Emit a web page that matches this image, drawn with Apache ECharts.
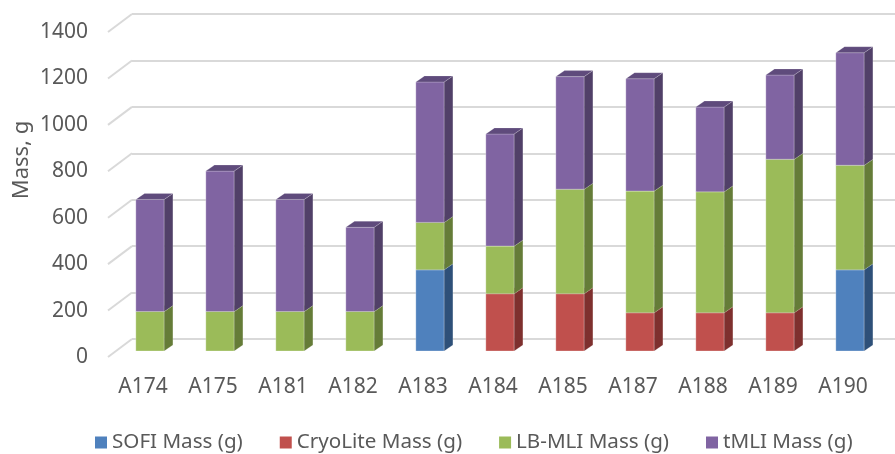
<!DOCTYPE html>
<html>
<head>
<meta charset="utf-8">
<script src="https://cdn.jsdelivr.net/npm/echarts@6/dist/echarts.min.js"></script>
<style>
html,body{margin:0;padding:0;background:#fff;}
#chart{width:895px;height:454px;}
</style>
</head>
<body>
<div id="chart"></div>
<script>
const categories = ['A174','A175','A181','A182','A183','A184','A185','A187','A188','A189','A190'];
const sofiMass     = [0,0,0,0,350,0,0,0,0,0,350];
const cryoLiteMass = [0,0,0,0,0,247,247,165,165,165,0];
const lbMliMass    = [170,170,170,170,204,205,450,524,521,661,450];
const tMliMass     = [483,605,483,363,605,483,485,484,365,363,485];
const yTicks = [0,200,400,600,800,1000,1200,1400];

const seriesDefs = [
  {name:'SOFI Mass (g)', values: sofiMass, front:'#4F81BD', side:'#2E5079', top:'#3D6699'},
  {name:'CryoLite Mass (g)', values: cryoLiteMass, front:'#C0504D', side:'#7E302E', top:'#9C3D3A'},
  {name:'LB-MLI Mass (g)', values: lbMliMass, front:'#9BBB59', side:'#657C38', top:'#7D9A45'},
  {name:'tMLI Mass (g)', values: tMliMass, front:'#8064A2', side:'#514068', top:'#5F4B7C'}
];

const FONT = '"Noto Sans", "Open Sans", sans-serif';
const TXT = '#595959';

// cumulative stacks
const stackBase = categories.map(() => 0);
const barSeries = seriesDefs.map((s, si) => {
  const data = categories.map((c, i) => {
    const b = stackBase[i];
    const t = b + s.values[i];
    stackBase[i] = t;
    return [i, b, t];
  });
  return {
    type: 'custom',
    name: s.name,
    xAxisIndex: 0, yAxisIndex: 0,
    z: 10 + si,
    itemStyle: {color: s.front},
    encode: {x: 0, y: [1, 2]},
    data: data,
    renderItem: function (params, api) {
      const ci = api.value(0), base = api.value(1), top = api.value(2);
      if (!(top > base)) return null;
      const p0 = api.coord([ci, base]);
      const p1 = api.coord([ci, top]);
      const band = api.size([1, 0])[0];
      const w = band * 0.405;
      const ox = 7, oy = -6, dx = 8.7, dy = -6;
      const x0 = p0[0] - w / 2 + ox, x1 = x0 + w;
      const yb = p0[1] + oy, yt = p1[1] + oy;
      return {
        type: 'group',
        children: [
          {type: 'rect', shape: {x: x0, y: yt, width: w, height: yb - yt},
           style: {fill: s.front, stroke: 'rgba(255,255,255,0.35)', lineWidth: 0.8}},
          {type: 'polygon', shape: {points: [[x1, yb], [x1, yt], [x1 + dx, yt + dy], [x1 + dx, yb + dy]]},
           style: {fill: s.side, stroke: 'rgba(255,255,255,0.25)', lineWidth: 0.6}},
          {type: 'polygon', shape: {points: [[x0, yt], [x1, yt], [x1 + dx, yt + dy], [x0 + dx, yt + dy]]},
           style: {fill: s.top, stroke: 'rgba(255,255,255,0.3)', lineWidth: 0.6}}
        ]
      };
    }
  };
});

const diagSeries = {
  type: 'custom',
  name: 'diag',
  xAxisIndex: 0, yAxisIndex: 0,
  z: 1,
  silent: true,
  legendHoverLink: false,
  encode: {x: 0, y: 1},
  data: yTicks.map(v => [0, v]),
  renderItem: function (params, api) {
    const p = api.coord([0, api.value(1)]);
    const x = params.coordSys.x;
    return {
      type: 'line',
      shape: {x1: x, y1: p[1], x2: x + 24, y2: p[1] - 18},
      style: {stroke: '#D9D9D9', lineWidth: 2}
    };
  }
};

const chart = echarts.init(document.getElementById('chart'), null, {renderer: 'canvas'});
chart.setOption({
  animation: false,
  backgroundColor: '#fff',
  textStyle: {fontFamily: FONT},
  grid: [
    {left: 108, top: 32, width: 770, height: 325},
    {left: 132, top: 14, right: 0, height: 325}
  ],
  xAxis: [
    {type: 'category', gridIndex: 0, data: categories,
     axisLine: {show: false}, axisTick: {show: false},
     axisLabel: {color: TXT, fontSize: 21, fontFamily: FONT, margin: 20}},
    {type: 'category', gridIndex: 1, data: categories, show: false}
  ],
  yAxis: [
    {type: 'value', gridIndex: 0, min: 0, max: 1400, interval: 200,
     axisLine: {show: false}, axisTick: {show: false}, splitLine: {show: false},
     axisLabel: {color: TXT, fontSize: 21, fontFamily: FONT, margin: 20,
                 formatter: function (v) { return String(v); }}},
    {type: 'value', gridIndex: 1, min: 0, max: 1400, interval: 200,
     axisLine: {show: false}, axisTick: {show: false}, axisLabel: {show: false},
     splitLine: {show: true, lineStyle: {color: '#D9D9D9', width: 2}}}
  ],
  legend: {
    left: 95, top: 432, padding: 0,
    itemWidth: 12, itemHeight: 12, itemGap: 37,
    icon: 'rect',
    textStyle: {color: TXT, fontSize: 20.6, fontFamily: FONT},
    data: seriesDefs.map(s => s.name)
  },
  graphic: [
    {type: 'text', x: 22, y: 160, rotation: Math.PI / 2,
     style: {text: 'Mass, g', fill: TXT, font: '22px ' + FONT, align: 'center', verticalAlign: 'middle'}}
  ],
  series: [diagSeries].concat(barSeries)
});
</script>
</body>
</html>
